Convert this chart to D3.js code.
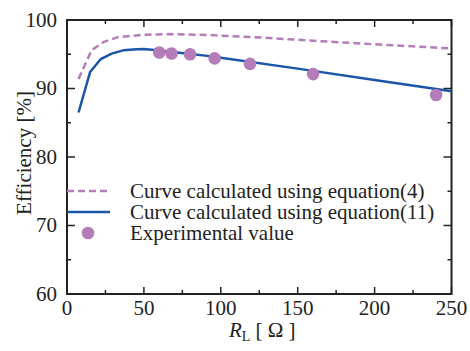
<!DOCTYPE html>
<html>
<head>
<meta charset="utf-8">
<script src="https://cdn.jsdelivr.net/npm/d3@7"></script>
<style>
  html, body { margin: 0; padding: 0; background: #fff; }
  svg { display: block; font-family: "Liberation Serif", "Times New Roman", serif; }
</style>
</head>
<body>
<svg id="chart" width="470" height="351"></svg>
<script>
// curve from equation (11)
const eq11X = [7.5, 15, 22, 29, 37, 45, 50, 60, 70, 80, 90, 100, 150, 200, 250];
const eq11Y = [86.5, 92.4, 94.3, 95.1, 95.6, 95.72, 95.75, 95.55, 95.3, 95.05, 94.8, 94.5, 92.9, 91.25, 89.6];

// curve from equation (4)
const eq4X = [7.5, 16, 24, 33, 50, 67, 93, 125, 158, 200, 250];
const eq4Y = [91.4, 95.6, 96.8, 97.5, 97.85, 97.95, 97.8, 97.45, 97.0, 96.45, 95.85];

// experimental points
const expX = [60, 68, 80, 96, 119, 160, 240];
const expY = [95.25, 95.1, 95.0, 94.4, 93.6, 92.1, 89.05];

const xTicks = [0, 50, 100, 150, 200, 250];
const yTicks = [60, 70, 80, 90, 100];
const legendLabels = [
  'Curve calculated using equation(4)',
  'Curve calculated using equation(11)',
  'Experimental value'
];

const purple = '#b57cba';
const blue = '#1a56a8';
const ink = '#222';

const margin = { top: 20, right: 18.5, bottom: 57, left: 67 };
const width = 470, height = 351;

const svg = d3.select('#chart');

const x = d3.scaleLinear().domain([0, 250]).range([margin.left, width - margin.right]);
const y = d3.scaleLinear().domain([60, 100]).range([height - margin.bottom, margin.top]);

const x0 = x.range()[0], x1 = x.range()[1];
const y0 = y.range()[0], y1 = y.range()[1];

// ticks (inward, all four sides)
const ticks = svg.append('g').attr('stroke', ink).attr('stroke-width', 1.5);
d3.range(0, 251, 25).forEach(v => {
  const len = v % 50 === 0 ? 7 : 4;
  ticks.append('line').attr('x1', x(v)).attr('x2', x(v)).attr('y1', y0).attr('y2', y0 - len);
  ticks.append('line').attr('x1', x(v)).attr('x2', x(v)).attr('y1', y1).attr('y2', y1 + len);
});
d3.range(60, 101, 5).forEach(v => {
  const len = v % 10 === 0 ? 8 : 4;
  ticks.append('line').attr('y1', y(v)).attr('y2', y(v)).attr('x1', x0).attr('x2', x0 + len);
  ticks.append('line').attr('y1', y(v)).attr('y2', y(v)).attr('x1', x1).attr('x2', x1 - len);
});

// frame
svg.append('rect')
  .attr('x', x0).attr('y', y1)
  .attr('width', x1 - x0).attr('height', y0 - y1)
  .attr('fill', 'none').attr('stroke', ink).attr('stroke-width', 2);

// tick labels
svg.append('g').selectAll('text')
  .data(xTicks).enter().append('text')
  .attr('x', d => x(d)).attr('y', y0 + 21)
  .attr('text-anchor', 'middle')
  .attr('font-size', 21).attr('fill', ink)
  .text(d => d);

svg.append('g').selectAll('text')
  .data(yTicks).enter().append('text')
  .attr('x', x0 - 10).attr('y', d => y(d))
  .attr('dy', '0.33em')
  .attr('text-anchor', 'end')
  .attr('font-size', 21).attr('fill', ink)
  .text(d => d);

// axis titles
const xt = svg.append('text')
  .attr('x', (x0 + x1) / 2 + 3).attr('y', 337)
  .attr('text-anchor', 'middle')
  .attr('font-size', 21).attr('fill', ink);
xt.append('tspan').attr('font-style', 'italic').text('R');
xt.append('tspan').attr('font-size', 14).attr('dy', 4).text('L');
xt.append('tspan').attr('dy', -4).text(' [ Ω ]');

svg.append('text')
  .attr('transform', `translate(31, 153) rotate(-90)`)
  .attr('text-anchor', 'middle')
  .attr('font-size', 21).attr('fill', ink)
  .text('Efficiency [%]');

// curves
const line = d3.line().x(d => x(d[0])).y(d => y(d[1]));

svg.append('path')
  .datum(d3.zip(eq4X, eq4Y))
  .attr('d', line)
  .attr('fill', 'none').attr('stroke', purple)
  .attr('stroke-width', 2.5).attr('stroke-dasharray', '7,4');

svg.append('path')
  .datum(d3.zip(eq11X, eq11Y))
  .attr('d', line)
  .attr('fill', 'none').attr('stroke', blue)
  .attr('stroke-width', 2.5);

svg.append('g').selectAll('circle')
  .data(d3.zip(expX, expY)).enter().append('circle')
  .attr('cx', d => x(d[0])).attr('cy', d => y(d[1]))
  .attr('r', 6.3).attr('fill', purple);

// legend
const lg = svg.append('g');
lg.append('line').attr('x1', x0).attr('x2', 110).attr('y1', 191).attr('y2', 191)
  .attr('stroke', purple).attr('stroke-width', 2.5).attr('stroke-dasharray', '7,4');
lg.append('line').attr('x1', x0).attr('x2', 110).attr('y1', 212).attr('y2', 212)
  .attr('stroke', blue).attr('stroke-width', 2.5);
lg.append('circle').attr('cx', 88).attr('cy', 233).attr('r', 6.3).attr('fill', purple);
lg.selectAll('text')
  .data(legendLabels).enter().append('text')
  .attr('x', 130).attr('y', (d, i) => 197.5 + i * 21)
  .attr('font-size', 21).attr('fill', ink)
  .text(d => d);
</script>
</body>
</html>
